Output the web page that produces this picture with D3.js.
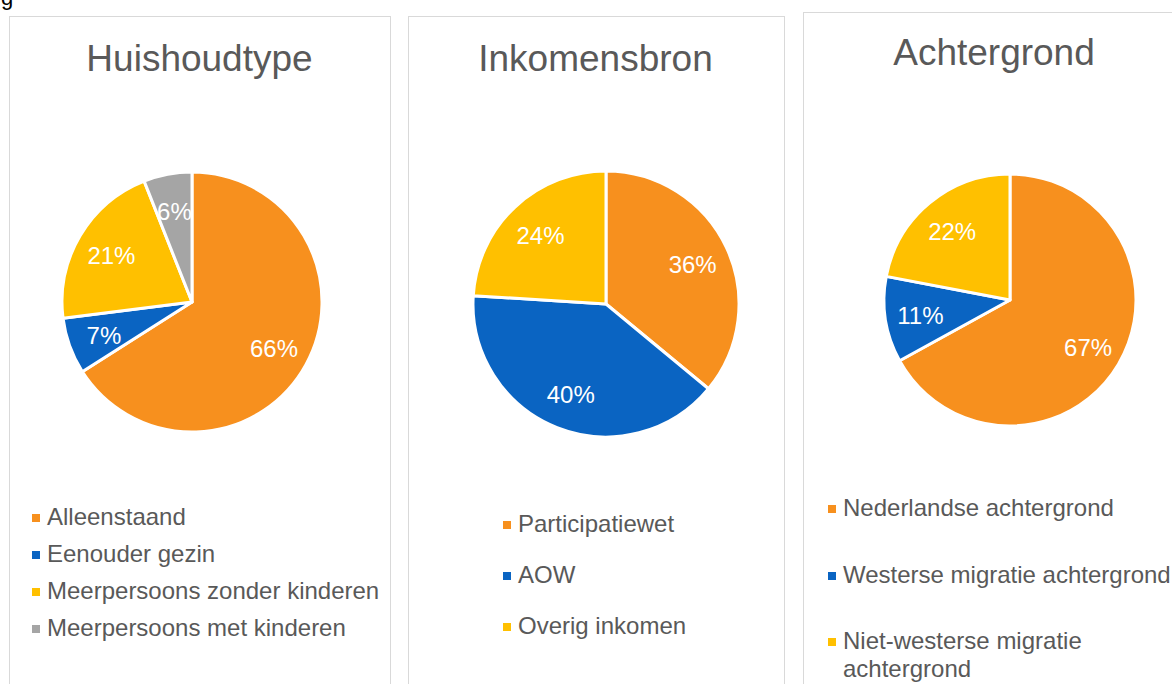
<!DOCTYPE html>
<html>
<head>
<meta charset="utf-8">
<script src="https://cdn.jsdelivr.net/npm/d3@7"></script>
<style>
  html, body { margin: 0; padding: 0; background: #fff; }
  svg { display: block; font-family: "Liberation Sans", Arial, sans-serif; }
</style>
</head>
<body>
<svg id="chart" width="1172" height="684"></svg>
<script>
// ---- Data ----
const titles = ["Huishoudtype", "Inkomensbron", "Achtergrond"];

const huishoudCategories = ["Alleenstaand", "Eenouder gezin", "Meerpersoons zonder kinderen", "Meerpersoons met kinderen"];
const huishoudValues = [66, 7, 21, 6];

const inkomenCategories = ["Participatiewet", "AOW", "Overig inkomen"];
const inkomenValues = [36, 40, 24];

const achtergrondCategories = ["Nederlandse achtergrond", "Westerse migratie achtergrond", "Niet-westerse migratie achtergrond"];
const achtergrondValues = [67, 11, 22];

const sliceColors = ["#F7901E", "#0A64C2", "#FFC000", "#A5A5A5"];

// ---- Layout ----
const svg = d3.select("#chart");
const textColor = "#595959";

svg.append("text").attr("x", 1).attr("y", 5).attr("font-size", 22)
  .attr("fill", "#000").text("g");

const panels = [
  { title: titles[0], cats: huishoudCategories, vals: huishoudValues,
    box: [9, 16, 381], titleX: 199.5, titleY: 71,
    cx: 192, cy: 302, r: 130,
    legendX: 32, legendY: [525, 562, 599, 636], wrap: 999 },
  { title: titles[1], cats: inkomenCategories, vals: inkomenValues,
    box: [408, 16, 376], titleX: 595.5, titleY: 71,
    cx: 606, cy: 304, r: 133,
    legendX: 503, legendY: [532, 583, 634], wrap: 999 },
  { title: titles[2], cats: achtergrondCategories, vals: achtergrondValues,
    box: [803, 12, 400], titleX: 994, titleY: 65,
    cx: 1010, cy: 300, r: 126,
    legendX: 828, legendY: [516, 583, 649], wrap: 350 }
];

panels.forEach(p => {
  svg.append("rect")
    .attr("x", p.box[0] + 0.5).attr("y", p.box[1] + 0.5)
    .attr("width", p.box[2]).attr("height", 720)
    .attr("fill", "#fff").attr("stroke", "#D9D9D9").attr("stroke-width", 1);

  svg.append("text")
    .attr("x", p.titleX).attr("y", p.titleY)
    .attr("text-anchor", "middle")
    .attr("font-size", 37).attr("fill", textColor)
    .text(p.title);

  const pie = d3.pie().sort(null).value(d => d);
  const arcs = pie(p.vals);
  const arc = d3.arc().innerRadius(0).outerRadius(p.r);
  const labelArc = d3.arc().innerRadius(p.r * 0.72).outerRadius(p.r * 0.72);

  const g = svg.append("g").attr("transform", `translate(${p.cx},${p.cy})`);
  g.selectAll("path").data(arcs).join("path")
    .attr("d", arc)
    .attr("fill", (d, i) => sliceColors[i])
    .attr("stroke", "#fff").attr("stroke-width", 3).attr("stroke-linejoin", "round");

  g.selectAll("text").data(arcs).join("text")
    .attr("transform", d => `translate(${labelArc.centroid(d)})`)
    .attr("text-anchor", "middle").attr("dy", "0.42em")
    .attr("font-size", 24).attr("fill", "#fff")
    .text(d => d.data + "%");

  p.cats.forEach((c, i) => {
    const y = p.legendY[i];
    svg.append("rect")
      .attr("x", p.legendX).attr("y", y - 11)
      .attr("width", 8).attr("height", 8)
      .attr("fill", sliceColors[i]);
    const t = svg.append("text")
      .attr("x", p.legendX + 15).attr("y", y)
      .attr("font-size", 24).attr("fill", textColor);
    const words = c.split(" ");
    let line = [], lineNo = 0;
    let tspan = t.append("tspan").attr("x", p.legendX + 15).attr("y", y);
    words.forEach(w => {
      line.push(w);
      tspan.text(line.join(" "));
      if (tspan.node().getComputedTextLength() > p.wrap && line.length > 1) {
        line.pop();
        tspan.text(line.join(" "));
        line = [w];
        lineNo++;
        tspan = t.append("tspan").attr("x", p.legendX + 15).attr("y", y + lineNo * 28).text(w);
      }
    });
  });
});
</script>
</body>
</html>
